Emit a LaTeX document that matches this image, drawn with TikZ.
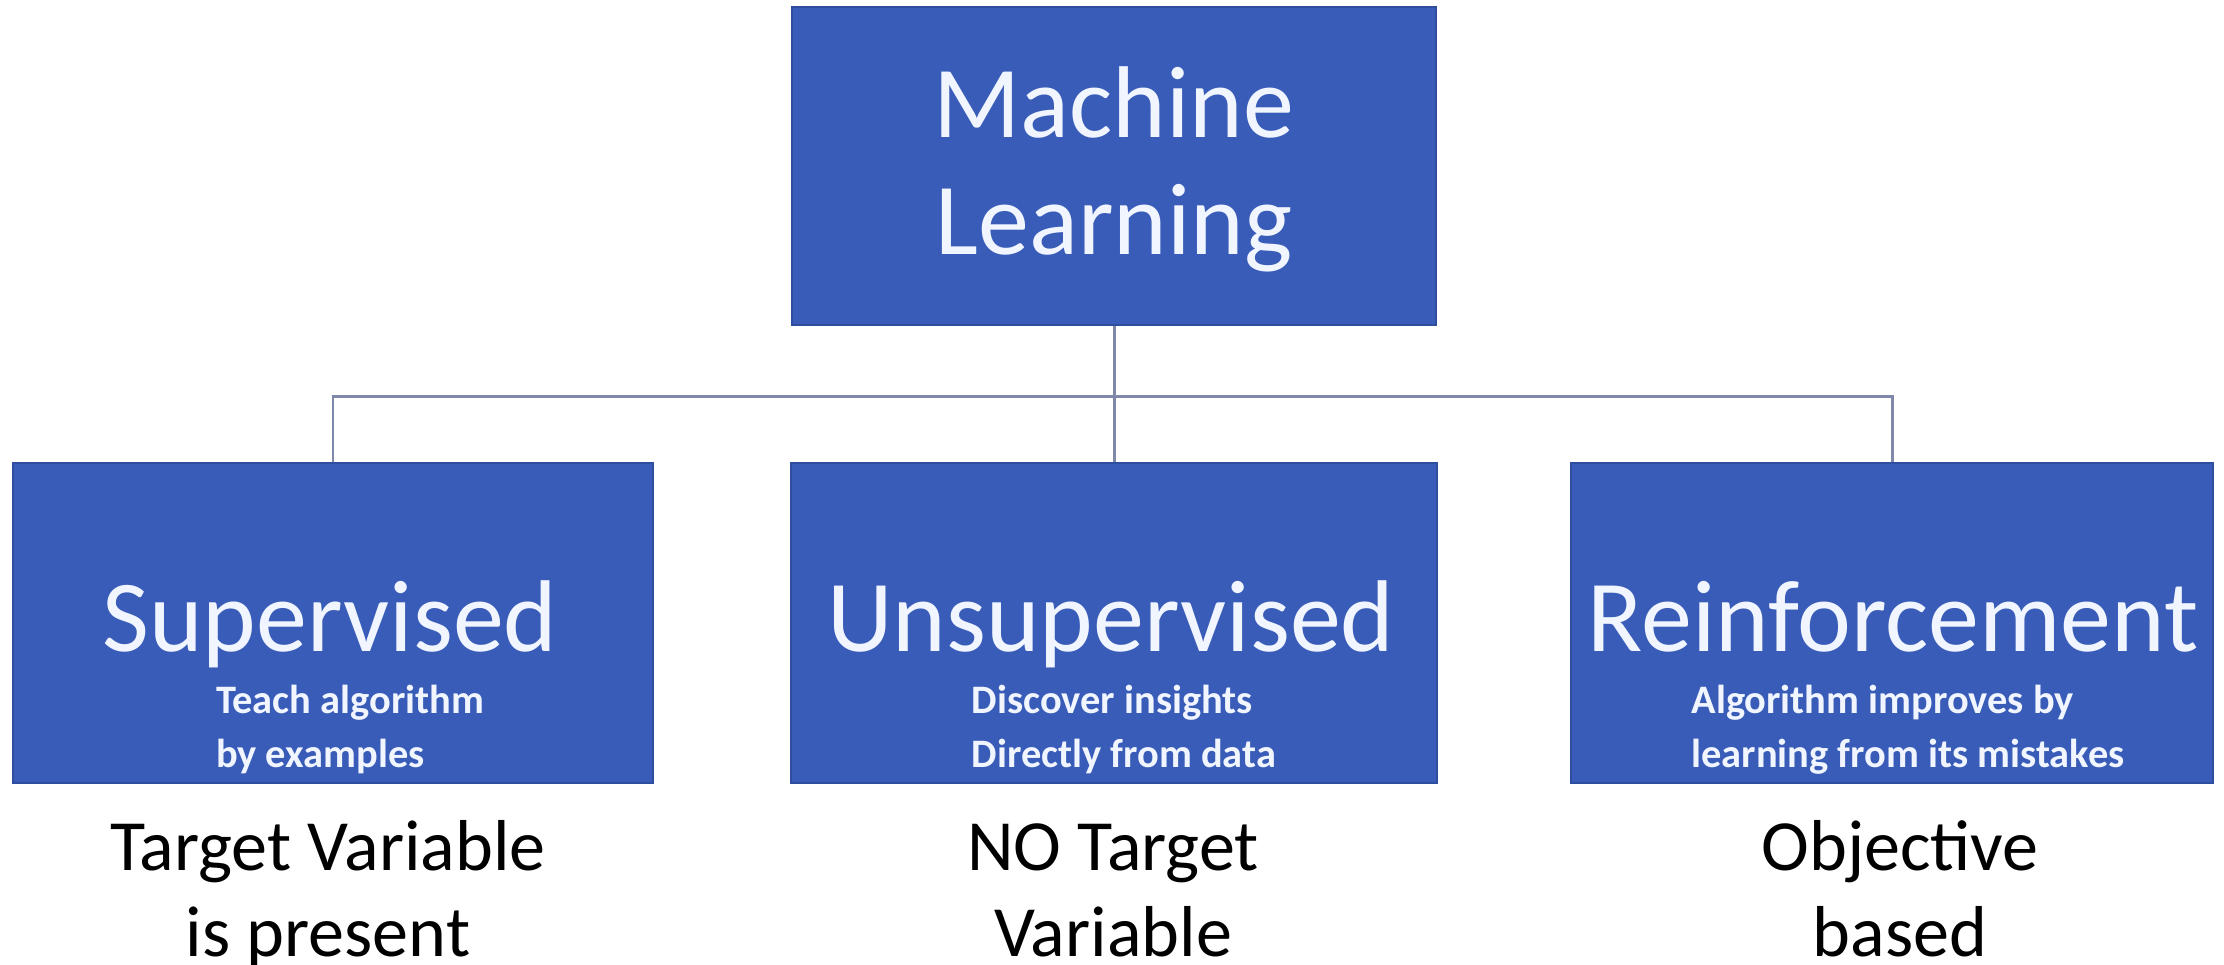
\documentclass[tikz,border=0pt]{standalone}
\usepackage{fontspec}
\setmainfont{Carlito}
\definecolor{boxblu}{RGB}{57,92,184}
\definecolor{bordoblu}{RGB}{47,78,160}
\definecolor{lineagrigia}{RGB}{128,136,170}
\definecolor{testobianco}{RGB}{240,245,255}
\begin{document}
\begin{tikzpicture}[
    x=0.01cm, y=-0.01cm,
    bluebox/.style={
        draw=bordoblu,
        line width=0.6pt,
        fill=boxblu,
        rectangle,
        inner sep=0pt
    },
    maintitle/.style={
        text=testobianco,
        anchor=base,
        inner sep=0pt,
        align=center,
        font=\fontsize{29}{33.3}\selectfont
    },
    subtitle/.style={
        text=testobianco,
        anchor=base,
        inner sep=0pt,
        align=left,
        font=\fontsize{11.5}{15.6}\selectfont\bfseries
    },
    undertext/.style={
        anchor=base,
        inner sep=0pt,
        align=center,
        font=\fontsize{20.5}{24.7}\selectfont
    },
    connector/.style={
        draw=lineagrigia,
        line width=0.85pt
    }
]

    \useasboundingbox (0,0) rectangle (2224,965);

    % Box principale
    \node[bluebox, minimum width=6.44cm, minimum height=3.18cm] (ml) at (1114,166) {};
    \node[maintitle] (ml_label) at (1114,255) {Machine\\Learning};

    % Box delle tre categorie
    \node[bluebox, minimum width=6.40cm, minimum height=3.20cm] (sup) at (333,623) {};
    \node[bluebox, minimum width=6.46cm, minimum height=3.20cm] (unsup) at (1114,623) {};
    \node[bluebox, minimum width=6.42cm, minimum height=3.20cm] (rein) at (1892,623) {};

    \node[maintitle] (sup_label) at (330,652) {Supervised};
    \node[maintitle] (unsup_label) at (1111,652) {Unsupervised};
    \node[maintitle] (rein_label) at (1893,652) {Reinforcement};

    \node[subtitle] (sup_sub) at (350,768) {Teach algorithm\\by examples};
    \node[subtitle] (unsup_sub) at (1124,768) {Discover insights\\Directly from data};
    \node[subtitle] (rein_sub) at (1908,768) {Algorithm improves by\\learning from its mistakes};

    % Testi sotto i box
    \node[undertext] (sup_note) at (328,957) {Target Variable\\is present};
    \node[undertext] (unsup_note) at (1113,957) {NO Target\\Variable};
    \node[undertext] (rein_note) at (1900,957) {Objective\\based};

    % Linee di collegamento
    \coordinate (snodo) at (1114,397);
    \draw[connector] (ml.south) -- (unsup.north);
    \draw[connector] (sup.north) |- (snodo) -| (rein.north);

\end{tikzpicture}
\end{document}
